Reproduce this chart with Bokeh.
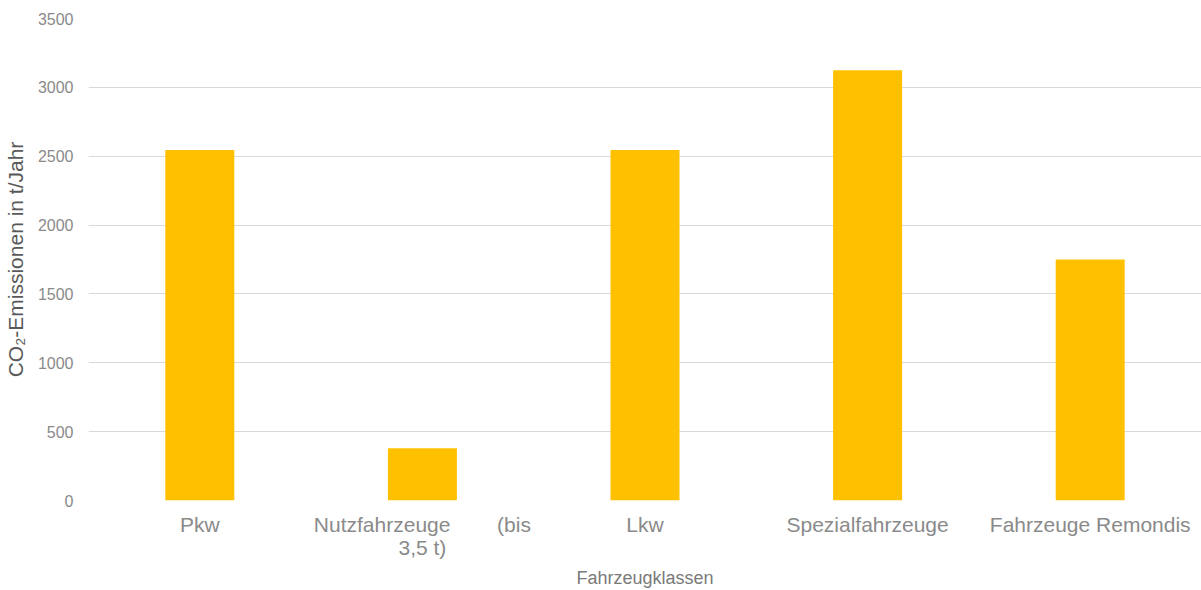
from bokeh.plotting import figure
from bokeh.models import FixedTicker, ColumnDataSource, FactorRange, Range1d
from bokeh.embed import file_html
from bokeh.resources import INLINE

NBSP = "\u00a0"

# Vehicle classes and their annual CO2 emissions (t/year)
categories = [
    "Pkw",
    "Nutzfahrzeuge" + NBSP * 8 + "(bis\n3,5 t)",
    "Lkw",
    "Spezialfahrzeuge",
    "Fahrzeuge Remondis",
]
emissions = [2545, 380, 2545, 3125, 1750]
y_ticks = [0, 500, 1000, 1500, 2000, 2500, 3000, 3500]

FONT = "Liberation Sans"
TICK_COLOR = "#8a8a8a"

source = ColumnDataSource(data=dict(cat=categories, val=emissions))

p = figure(
    width=1201,
    height=590,
    x_range=FactorRange(*categories),
    y_range=Range1d(0, 3500),
    output_backend="svg",
    toolbar_location=None,
    min_border_left=88,
    min_border_right=0,
    min_border_top=18,
    min_border_bottom=90,
)
p.outline_line_color = None

p.vbar(x="cat", top="val", width=0.31, source=source,
       fill_color="#FFC000", line_color=None)

# grid
p.xgrid.visible = False
p.ygrid.grid_line_color = "#d9d9d9"
p.ygrid.grid_line_width = 1

# y axis
p.yaxis.ticker = FixedTicker(ticks=y_ticks)
p.yaxis.axis_line_color = None
p.yaxis.major_tick_line_color = None
p.yaxis.minor_tick_line_color = None
p.yaxis.major_label_text_font = FONT
p.yaxis.major_label_text_font_size = "16px"
p.yaxis.major_label_text_color = TICK_COLOR
p.yaxis.major_label_standoff = 9
p.yaxis.axis_label = "CO₂-Emissionen in t/Jahr"
p.yaxis.axis_label_text_font = FONT
p.yaxis.axis_label_text_font_style = "normal"
p.yaxis.axis_label_text_font_size = "21px"
p.yaxis.axis_label_text_color = "#595959"
p.yaxis.axis_label_standoff = 8

# x axis
p.xaxis.axis_line_color = None
p.xaxis.major_tick_line_color = None
p.xaxis.minor_tick_line_color = None
p.xaxis.major_label_text_font = FONT
p.xaxis.major_label_text_font_size = "21px"
p.xaxis.major_label_text_color = TICK_COLOR
p.xaxis.major_label_text_line_height = 1.0
p.xaxis.major_label_standoff = 6
p.xaxis.axis_label = "Fahrzeugklassen"
p.xaxis.axis_label_text_font = FONT
p.xaxis.axis_label_text_font_style = "normal"
p.xaxis.axis_label_text_font_size = "18px"
p.xaxis.axis_label_text_color = "#7a7a7a"
p.xaxis.axis_label_standoff = 6

open("out.html", "w").write(file_html(p, INLINE))
